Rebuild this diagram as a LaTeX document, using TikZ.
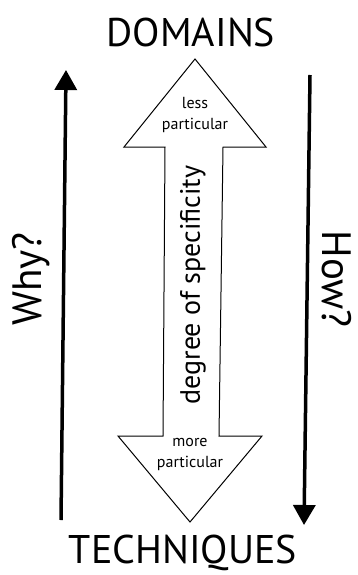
\documentclass[tikz,border=0pt]{standalone}
\usepackage{fontspec}
\setmainfont{PT Sans}
\usetikzlibrary{arrows.meta}
\begin{document}
\begin{tikzpicture}[x=1pt,y=-1pt,
  bigtext/.style={font=\fontsize{40}{40}\selectfont, inner sep=0pt, anchor=base},
  sidetext/.style={font=\fontsize{41}{41}\selectfont, inner sep=0pt},
  smalltext/.style={font=\fontsize{16}{21}\selectfont, inner sep=0pt, align=center},
  midtext/.style={font=\fontsize{28}{28}\selectfont, inner sep=0pt},
  outline/.style={draw=black, line width=1pt, line join=miter},
  bigarrow/.style={line width=3.5pt, -{Triangle[length=20pt,width=22pt]}}]
\useasboundingbox (0,0) rectangle (357,575);
% titles
\node[bigtext] (dom) at (191,47) {DOMAINS};
\node[bigtext] (tech) at (183,563) {TECHNIQUES};
% double arrow outline
\draw[outline] (195,59) -- (266,147) -- (223,147) -- (219,436) -- (262,436)
  -- (190,522) -- (118,436) -- (163,436) -- (165,147) -- (124,147) -- cycle;
\node[smalltext] (less) at (195,115) {less\\particular};
\node[smalltext] (more) at (190,454) {more\\particular};
\node[midtext, rotate=90] (deg) at (193,285) {degree of specificity};
% side arrows
\coordinate (lb) at (61,520);
\coordinate (lt) at (66,70);
\coordinate (rt) at (310,75);
\coordinate (rb) at (304,525);
\draw[bigarrow] (lb) -- (lt);
\draw[bigarrow] (rt) -- (rb);
\node[sidetext, rotate=90] (why) at (31,279) {Why?};
\node[sidetext, rotate=-90] (how) at (337,279) {How?};
\end{tikzpicture}
\end{document}
